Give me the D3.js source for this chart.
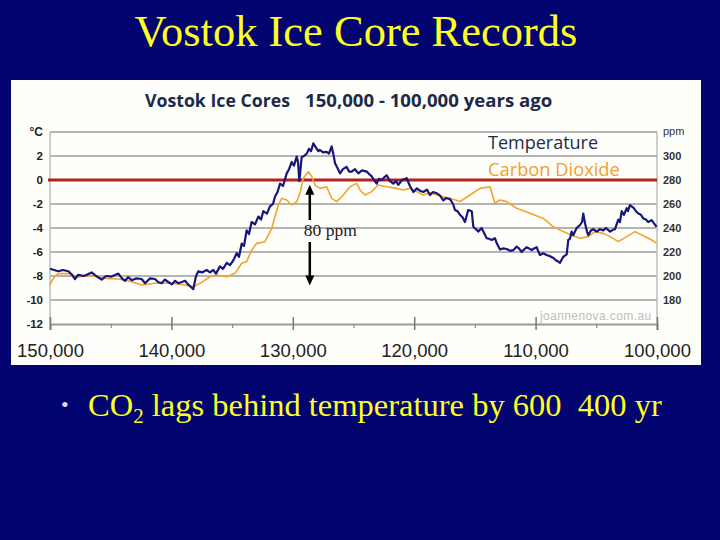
<!DOCTYPE html>
<html lang="en">
<head>
    <meta charset="UTF-8">
    <title>Vostok Ice Core Records</title>
    <script type="text/javascript" src="https://cdn.jsdelivr.net/npm/d3@7"></script>
    <style>
        body {
            margin: 0;
            background: #02046f;
        }

        .grid line {
            stroke: #b4b4b4;
            stroke-width: 2;
        }

        .axis-temp text {
            font: bold 11.5px "Liberation Sans", Arial, sans-serif;
            fill: #222;
        }

        .axis-co2 text {
            font: bold 11px "Liberation Sans", Arial, sans-serif;
            fill: #333;
        }

        .axis-x text {
            font: 18.5px "Liberation Sans", Arial, sans-serif;
            fill: #222;
        }
    </style>
</head>
<body>
<svg id="slide" width="720" height="540"></svg>
<script>
    // temperature, [thousand years ago, deg C]
    var tempSeries = [
        [150.0, -7.4], [149.32, -7.6], [148.93, -7.5], [148.49, -7.6], [148.19, -7.9], [147.94, -8.25],
        [147.67, -7.9], [147.2, -8.0], [146.57, -7.7], [146.2, -8.0], [145.74, -8.3], [145.39, -8.0],
        [144.92, -8.05], [144.37, -7.8], [144.07, -8.2], [143.82, -8.4], [143.57, -8.1], [143.27, -8.35],
        [142.92, -8.2], [142.45, -8.25], [142.17, -8.6], [141.76, -8.2], [141.35, -8.25], [141.1, -8.5],
        [140.8, -8.6], [140.53, -8.3], [140.26, -8.5], [139.95, -8.7], [139.7, -8.4], [139.43, -8.6],
        [139.13, -8.5], [138.88, -8.4], [138.63, -8.7], [138.3, -9.0], [138.2, -9.1], [137.97, -8.0],
        [137.78, -7.6], [137.48, -7.7], [137.09, -7.5], [136.82, -7.7], [136.55, -7.5], [136.33, -7.8],
        [136.0, -7.2], [135.75, -7.4], [135.44, -6.9], [135.17, -7.1], [134.9, -6.7], [134.62, -6.1],
        [134.43, -6.4], [134.21, -5.3], [134.02, -5.5], [133.8, -4.2], [133.61, -4.5], [133.39, -3.5],
        [133.11, -3.7], [132.84, -3.05], [132.62, -3.3], [132.43, -2.6], [132.13, -2.8], [131.88, -2.2],
        [131.63, -2.0], [131.47, -1.4], [131.26, -1.0], [131.05, -0.3], [130.81, -0.5], [130.5, 0.55],
        [130.31, 0.9], [130.09, 1.5], [129.9, 1.2], [129.68, 1.95], [129.57, 1.5], [129.46, -0.1],
        [129.27, 1.9], [129.08, 2.0], [128.85, 2.2], [128.67, 2.6], [128.5, 2.4], [128.31, 3.05],
        [128.09, 2.7], [127.9, 2.4], [127.76, 2.5], [127.51, 2.3], [127.21, 2.35], [127.02, 2.2],
        [126.8, 2.8], [126.69, 2.3], [126.52, 1.4], [126.32, 1.0], [126.11, 0.55], [125.87, 0.9],
        [125.57, 1.1], [125.37, 0.7], [125.15, 0.7], [124.88, 0.9], [124.6, 0.55], [124.3, 0.8],
        [123.91, 0.7], [123.72, 0.5], [123.5, 0.3], [123.31, 0.0], [123.09, -0.3], [122.9, 0.1],
        [122.68, 0.0], [122.49, 0.2], [122.27, 0.4], [122.0, -0.1], [121.72, -0.3], [121.5, -0.1],
        [121.31, -0.4], [121.0, 0.0], [120.62, 0.15], [120.35, -0.5], [120.07, -1.0], [119.77, -0.7],
        [119.52, -0.9], [119.25, -1.0], [118.95, -0.8], [118.7, -1.25], [118.45, -1.0], [118.15, -1.1],
        [117.87, -1.3], [117.6, -1.7], [117.38, -1.5], [117.05, -1.6], [116.8, -2.0], [116.64, -2.5],
        [116.43, -2.6], [116.23, -2.9], [116.02, -3.1], [115.82, -3.5], [115.55, -2.5], [115.26, -2.6],
        [115.13, -3.9], [114.91, -4.1], [114.72, -4.3], [114.45, -4.0], [114.25, -4.4], [114.03, -4.85],
        [113.84, -4.9], [113.62, -5.0], [113.35, -4.85], [113.19, -5.3], [112.93, -5.8], [112.69, -5.7],
        [112.38, -5.75], [112.11, -5.9], [111.84, -5.85], [111.56, -5.55], [111.37, -5.7], [111.15, -6.0],
        [110.96, -5.8], [110.74, -5.6], [110.54, -5.7], [110.32, -5.85], [110.13, -5.7], [109.91, -5.6],
        [109.8, -5.9], [109.64, -6.25], [109.39, -6.1], [109.09, -6.25], [108.81, -6.35], [108.54, -6.5],
        [108.32, -6.7], [108.13, -6.8], [107.99, -6.9], [107.72, -6.4], [107.44, -6.2], [107.31, -5.0],
        [107.17, -4.9], [107.03, -4.3], [106.9, -4.6], [106.62, -4.0], [106.34, -3.75], [106.18, -3.5],
        [106.07, -2.8], [105.93, -3.6], [105.77, -4.3], [105.66, -4.6], [105.44, -4.2], [105.25, -4.1],
        [104.97, -4.3], [104.7, -4.1], [104.42, -4.2], [104.2, -4.0], [103.87, -4.3], [103.62, -4.15],
        [103.46, -4.1], [103.19, -3.3], [103.05, -3.5], [102.91, -2.6], [102.72, -2.9], [102.5, -2.35],
        [102.39, -2.6], [102.23, -2.1], [101.95, -2.3], [101.73, -2.6], [101.54, -2.8], [101.32, -2.9],
        [101.13, -3.2], [100.91, -3.3], [100.73, -3.5], [100.44, -3.35], [100.26, -3.6], [100.03, -3.9]
    ];

    // carbon dioxide, [thousand years ago, ppm]
    var co2Series = [
        [150.0, 192.5], [149.84, 196], [149.59, 200], [149.32, 202], [148.49, 202], [147.67, 199.4],
        [146.57, 200.5], [145.47, 198], [144.37, 197.5], [143.27, 195.3], [142.45, 192.5], [141.35, 193.9],
        [139.98, 193.9], [138.88, 192.5], [138.2, 191], [137.64, 193.9], [136.82, 199.4], [136.27, 200.8],
        [135.44, 199.4], [134.76, 202.2], [134.21, 210.6], [133.8, 212], [133.39, 221.7], [132.97, 227.2],
        [132.29, 228.6], [131.74, 239.7], [131.47, 249.4], [131.19, 259.2], [130.91, 264.8], [130.5, 263.3],
        [130.09, 259.2], [129.68, 262], [129.41, 268.9], [129.14, 281.4], [128.72, 286.9], [128.44, 283],
        [128.17, 275.8], [127.76, 273], [127.21, 274.4], [126.8, 264.7], [126.38, 262], [125.84, 267.5],
        [125.29, 274.4], [124.74, 277.2], [124.46, 271.7], [124.05, 267.5], [123.5, 270.3], [122.96, 275.8],
        [122.26, 274.4], [121.44, 273], [120.9, 271.7], [120.35, 273], [119.79, 270.3], [119.25, 267.5],
        [118.7, 269.4], [118.15, 267.5], [117.6, 266], [117.05, 264.7], [116.23, 262], [115.4, 267.5],
        [114.58, 273], [113.76, 274.4], [113.35, 260.6], [112.93, 263.3], [112.38, 262], [111.56, 256.4],
        [110.46, 252.2], [109.37, 248], [108.54, 241], [107.72, 237], [107.03, 234], [106.34, 231.4],
        [105.66, 232.8], [105.11, 237], [104.42, 235.5], [103.87, 232.8], [103.19, 228.6], [102.5, 232.8],
        [101.81, 237], [101.13, 233.5], [100.44, 230], [100.03, 227.2]
    ];

    var yearTicks = [150000, 140000, 130000, 120000, 110000, 100000];
    var yearMinorTicks = [145000, 135000, 125000, 115000, 105000];
    var tempTicks = [2, 0, -2, -4, -6, -8, -10, -12];
    var tempGrid = [4, 2, -2, -4, -6, -8, -10];
    var co2Ticks = [300, 280, 260, 240, 220, 200, 180];

    var svg = d3.select("svg#slide"),
        width = +svg.attr("width"),
        height = +svg.attr("height");

    var plotLeft = 50,
        plotRight = 657,
        plotTop = 132,
        plotBottom = 324;

    var x = d3.scaleLinear().domain([150000, 100000]).range([plotLeft, plotRight]);
    var yT = d3.scaleLinear().domain([-12, 4]).range([plotBottom, plotTop]);
    var yC = d3.scaleLinear().domain([160, 320]).range([plotBottom, plotTop]);

    svg.append("rect")
        .attr("width", width)
        .attr("height", height)
        .attr("fill", "#02046f");

    svg.append("text")
        .attr("x", 356)
        .attr("y", 46)
        .attr("text-anchor", "middle")
        .attr("font-family", "'Liberation Serif', 'Times New Roman', serif")
        .attr("font-size", 44.5)
        .attr("fill", "#ffff22")
        .text("Vostok Ice Core Records");

    // white chart card
    svg.append("rect")
        .attr("x", 11)
        .attr("y", 80)
        .attr("width", 690)
        .attr("height", 285)
        .attr("fill", "#fefefb");

    var heading = svg.append("g")
        .attr("font-family", "'Open Sans', sans-serif")
        .attr("font-weight", "bold")
        .attr("fill", "#1d2a47");
    heading.append("text").attr("x", 145).attr("y", 107).attr("font-size", 17.7).text("Vostok Ice Cores");
    heading.append("text").attr("x", 305).attr("y", 107).attr("font-size", 18.6).text("150,000 - 100,000 years ago");

    // horizontal grid
    svg.append("g")
        .attr("class", "grid")
        .selectAll("line")
        .data(tempGrid)
        .enter()
        .append("line")
        .attr("x1", plotLeft)
        .attr("x2", plotRight)
        .attr("y1", function (d) { return yT(d); })
        .attr("y2", function (d) { return yT(d); });

    svg.append("g")
        .selectAll("line")
        .data([plotLeft, plotRight])
        .enter()
        .append("line")
        .attr("x1", function (d) { return d; })
        .attr("x2", function (d) { return d; })
        .attr("y1", plotTop)
        .attr("y2", plotBottom)
        .attr("stroke", "#bdbdbd")
        .attr("stroke-width", 1.5);

    // left axis, deg C
    var tempAxis = svg.append("g")
        .attr("class", "axis-temp")
        .attr("transform", "translate(" + plotLeft + ",0)")
        .call(d3.axisLeft(yT).tickValues(tempTicks).tickSize(0).tickPadding(7)
            .tickFormat(function (d) { return String(d); }));
    tempAxis.select(".domain").remove();

    svg.append("text")
        .attr("x", 43)
        .attr("y", 136)
        .attr("text-anchor", "end")
        .attr("font-family", "'Liberation Sans', Arial, sans-serif")
        .attr("font-weight", "bold")
        .attr("font-size", 12)
        .attr("fill", "#222")
        .text("\u00B0C");

    // right axis, ppm
    var co2Axis = svg.append("g")
        .attr("class", "axis-co2")
        .attr("transform", "translate(" + plotRight + ",0)")
        .call(d3.axisRight(yC).tickValues(co2Ticks).tickSize(0).tickPadding(6));
    co2Axis.select(".domain").remove();

    svg.append("text")
        .attr("x", 663)
        .attr("y", 135)
        .attr("font-family", "'Liberation Sans', Arial, sans-serif")
        .attr("font-size", 11)
        .attr("fill", "#333")
        .text("ppm");

    // bottom axis
    var xAxis = svg.append("g")
        .attr("class", "axis-x")
        .attr("transform", "translate(0," + plotBottom + ")")
        .call(d3.axisBottom(x).tickValues(yearTicks).tickSizeOuter(0).tickSize(6)
            .tickFormat(d3.format(",")));
    xAxis.select(".domain").attr("stroke", "#9a9a9a").attr("stroke-width", 2);
    xAxis.selectAll(".tick line").attr("y1", -7).attr("stroke", "#777").attr("stroke-width", 1.5);
    xAxis.selectAll(".tick text").attr("y", 33).attr("dy", 0);

    var xMinor = svg.append("g")
        .attr("transform", "translate(0," + plotBottom + ")")
        .call(d3.axisBottom(x).tickValues(yearMinorTicks).tickSize(4).tickFormat(""));
    xMinor.select(".domain").remove();
    xMinor.selectAll(".tick line").attr("stroke", "#888").attr("stroke-width", 1.2);

    svg.append("text")
        .attr("x", 540)
        .attr("y", 320)
        .attr("font-family", "'Liberation Sans', Arial, sans-serif")
        .attr("font-size", 12)
        .attr("letter-spacing", 0.4)
        .attr("fill", "#bdbdbd")
        .text("joannenova.com.au");

    // zero line
    svg.append("line")
        .attr("x1", plotLeft - 2)
        .attr("x2", plotRight)
        .attr("y1", yT(0))
        .attr("y2", yT(0))
        .attr("stroke", "#b3201e")
        .attr("stroke-width", 3);

    // legend
    svg.append("text")
        .attr("x", 488)
        .attr("y", 149)
        .attr("font-family", "'Open Sans', sans-serif")
        .attr("font-size", 18)
        .attr("fill", "#1e2b4d")
        .text("Temperature");
    svg.append("text")
        .attr("x", 488)
        .attr("y", 176)
        .attr("font-family", "'Open Sans', sans-serif")
        .attr("font-size", 18.3)
        .attr("fill", "#f0a030")
        .text("Carbon Dioxide");

    var co2Line = d3.line()
        .x(function (d) { return x(d[0] * 1000); })
        .y(function (d) { return yC(d[1]); });

    var tempLine = d3.line()
        .x(function (d) { return x(d[0] * 1000); })
        .y(function (d) { return yT(d[1]); });

    svg.append("path")
        .datum(co2Series)
        .attr("fill", "none")
        .attr("stroke", "#f4a32c")
        .attr("stroke-width", 1.6)
        .attr("stroke-linejoin", "round")
        .attr("d", co2Line);

    svg.append("path")
        .datum(tempSeries)
        .attr("fill", "none")
        .attr("stroke", "#16167c")
        .attr("stroke-width", 2.2)
        .attr("stroke-linejoin", "round")
        .attr("d", tempLine);

    // 80 ppm arrow
    var arrowYear = 128600,
        arrowTop = 276,
        arrowBottom = 192,
        ax = x(arrowYear),
        labelY = 236;

    var arrow = svg.append("g").attr("fill", "#000").attr("stroke", "#000");
    arrow.append("line")
        .attr("x1", ax).attr("x2", ax)
        .attr("y1", yC(arrowTop) + 8).attr("y2", labelY - 16)
        .attr("stroke-width", 2.5);
    arrow.append("line")
        .attr("x1", ax).attr("x2", ax)
        .attr("y1", labelY + 6).attr("y2", yC(arrowBottom) - 8)
        .attr("stroke-width", 2.5);
    arrow.append("path")
        .attr("stroke", "none")
        .attr("d", "M" + ax + "," + yC(arrowTop) + "l-4.5,10h9z");
    arrow.append("path")
        .attr("stroke", "none")
        .attr("d", "M" + ax + "," + yC(arrowBottom) + "l-4.5,-10h9z");

    svg.append("text")
        .attr("x", ax - 6)
        .attr("y", labelY)
        .attr("font-family", "'Liberation Serif', 'Times New Roman', serif")
        .attr("font-size", 17.5)
        .attr("fill", "#222")
        .text("80 ppm");

    // bullet point
    svg.append("text")
        .attr("x", 61)
        .attr("y", 412)
        .attr("font-family", "'Liberation Serif', serif")
        .attr("font-size", 22)
        .attr("fill", "#dcdcff")
        .text("\u2022");

    var bullet = svg.append("text")
        .attr("x", 88)
        .attr("y", 416)
        .attr("font-family", "'Liberation Serif', 'Times New Roman', serif")
        .attr("font-size", 32.5)
        .attr("fill", "#ffff22")
        .style("white-space", "pre");
    bullet.append("tspan").text("CO");
    bullet.append("tspan").attr("dy", 7).attr("font-size", 21).text("2");
    bullet.append("tspan").attr("dy", -7).text(" lags behind temperature by 600  400 yr");
</script>
</body>
</html>
